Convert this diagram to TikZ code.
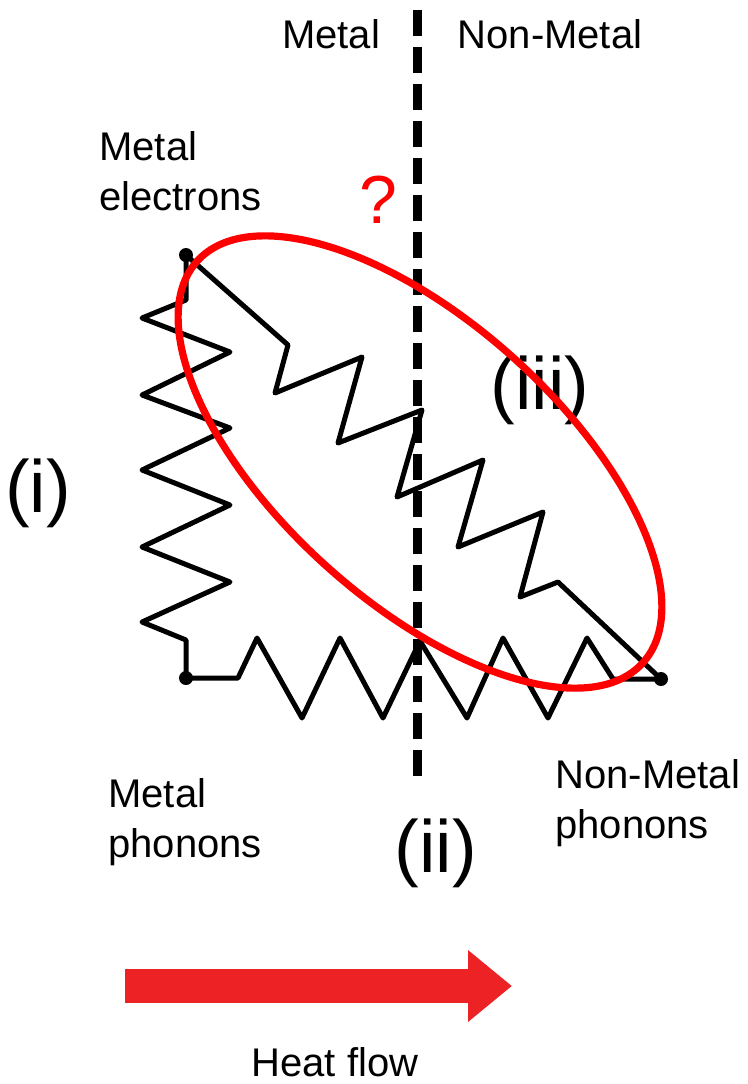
\documentclass[tikz,border=0pt]{standalone}
\usepackage{fontspec}
\setmainfont{Liberation Sans}
\usetikzlibrary{arrows.meta}
\definecolor{hfRed}{RGB}{237,34,36}
\definecolor{ovRed}{RGB}{255,0,0}

\begin{document}
\begin{tikzpicture}[x=0.5pt,y=-0.5pt,
  spring/.style={line width=2.5pt, line join=round},
  ball/.style={circle, fill=black, inner sep=0pt, minimum size=7pt},
  lbl/.style={font=\fontsize{20}{25}\selectfont, inner sep=0pt, align=left},
  roman/.style={font=\fontsize{37}{44}\selectfont, inner sep=0pt},
  border/.style={line width=4.5pt, dash pattern=on 13pt off 5.5pt},
  heat/.style={hfRed, line width=17pt, -{Triangle[length=22pt,width=34.5pt]}}]
  \useasboundingbox (0,0) rectangle (748,1084);

  % the three reservoirs
  \node[ball] (me) at (186,255) {};
  \node[ball] (mp) at (186,678) {};
  \node[ball] (np) at (661,679) {};

  % (i) electron-phonon coupling in the metal
  \draw[spring] (me.center) -- (186,300) -- (142,318) -- (230,352) -- (142,395)
    -- (230,428) -- (142,470) -- (230,505) -- (142,547) -- (230,582)
    -- (142,622) -- (186,640) -- (mp.center);
  % (ii) phonon-phonon across the interface
  \draw[spring] (mp.center) -- (238,678) -- (257,638) -- (302,718) -- (340,638)
    -- (383,718) -- (420,641) -- (467,718) -- (503,638) -- (548,718)
    -- (587,638) -- (613,679) -- (np.center);
  % (iii) electron-phonon across the interface
  \draw[spring] (me.center) -- (288,345) -- (275,393) -- (362,357) -- (338,443)
    -- (422,410) -- (397,497) -- (483,460) -- (458,547) -- (543,512)
    -- (520,597) -- (558,582) -- (np.center);

  % interface
  \coordinate (itop) at (417,10);
  \coordinate (ibot) at (417,783);
  \draw[border] (itop) -- (ibot);

  % labels
  \node[lbl, anchor=base] (metal) at (331,48) {Metal};
  \node[lbl, anchor=base] (nonmetal) at (550,48) {Non-Metal};
  \node[lbl, anchor=base west] (elec) at (99,210) {Metal\\electrons};
  \node[lbl, anchor=base west] (mphon) at (108,857) {Metal\\phonons};
  \node[lbl, anchor=base west] (nphon) at (555,838) {Non-Metal\\phonons};
  \node[font=\fontsize{34}{40}\selectfont, text=ovRed, inner sep=0pt, anchor=base] (qm) at (378,223) {?};
  \node[roman, anchor=base] (ri) at (38,512) {(i)};
  \node[roman, anchor=base] (rii) at (436,872) {(ii)};
  \node[roman, anchor=base] (riii) at (540,409) {(iii)};

  % red oval
  \coordinate (oval) at (420,462);
  \draw[ovRed, line width=3.6pt, rotate around={-42:(oval)}] (oval) ellipse [x radius=300, y radius=140];

  % heat flow
  \coordinate (hs) at (125,986);
  \coordinate (he) at (512,986);
  \draw[heat] (hs) -- (he);
  \node[lbl, anchor=base] (hf) at (335,1076) {Heat flow};
\end{tikzpicture}
\end{document}
